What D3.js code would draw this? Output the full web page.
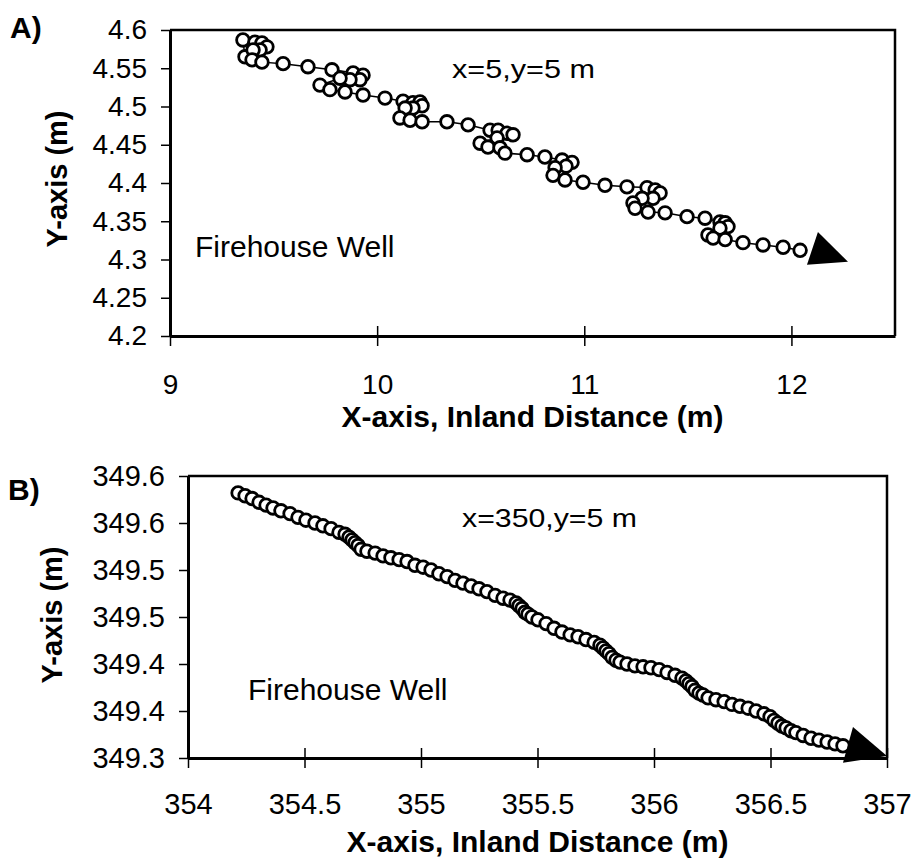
<!DOCTYPE html>
<html>
<head>
<meta charset="utf-8">
<script src="https://cdn.jsdelivr.net/npm/d3@7"></script>
<style>
  body { margin: 0; background: #fff; }
  text { font-family: "Liberation Sans", Arial, Helvetica, sans-serif; fill: #000; }
</style>
</head>
<body>
<div id="chart"></div>
<script>
// ---- panel A : x=5, y=5 m ----
const trackAx = [9.362, 9.352, 9.410, 9.444, 9.468, 9.435, 9.401, 9.396, 9.444, 9.546, 9.666, 9.782,
  9.884, 9.932, 9.917, 9.869, 9.821, 9.724, 9.772, 9.845, 9.932, 10.038, 10.125,
  10.173, 10.207, 10.217, 10.173, 10.135, 10.110, 10.159, 10.217, 10.337, 10.439,
  10.545, 10.584, 10.627, 10.656, 10.579, 10.497, 10.535, 10.593, 10.617, 10.724, 10.810,
  10.893, 10.941, 10.912, 10.859, 10.849, 10.907, 10.994, 11.100, 11.206,
  11.303, 11.342, 11.366, 11.332, 11.279, 11.235, 11.245, 11.308, 11.390, 11.496, 11.583,
  11.655, 11.680, 11.694, 11.655, 11.597, 11.622, 11.680, 11.766, 11.863, 11.960, 12.042];
const trackAy = [4.565, 4.587, 4.584, 4.583, 4.578, 4.574, 4.574, 4.561, 4.558, 4.556, 4.552, 4.548,
  4.544, 4.541, 4.535, 4.535, 4.537, 4.528, 4.522, 4.519, 4.515, 4.511, 4.507,
  4.505, 4.506, 4.501, 4.498, 4.498, 4.485, 4.482, 4.480, 4.480, 4.476,
  4.469, 4.469, 4.465, 4.463, 4.459, 4.452, 4.447, 4.446, 4.439, 4.437, 4.434,
  4.430, 4.427, 4.422, 4.420, 4.410, 4.404, 4.401, 4.397, 4.395,
  4.394, 4.391, 4.387, 4.380, 4.380, 4.374, 4.367, 4.362, 4.361, 4.356, 4.354,
  4.349, 4.348, 4.343, 4.341, 4.332, 4.328, 4.326, 4.322, 4.319, 4.316, 4.312];
const arrowAx = [12.075, 12.128, 12.273];
const arrowAy = [4.293, 4.336, 4.297];
const xTicksA = [9, 10, 11, 12];
const xLabelsA = ["9", "10", "11", "12"];
const yTicksA = [4.2, 4.25, 4.3, 4.35, 4.4, 4.45, 4.5, 4.55, 4.6];
const yLabelsA = ["4.2", "4.25", "4.3", "4.35", "4.4", "4.45", "4.5", "4.55", "4.6"];

// ---- panel B : x=350, y=5 m ----
const trackBx = [354.215, 354.245, 354.275, 354.305, 354.335, 354.365, 354.399, 354.438, 354.472, 354.506,
  354.545, 354.579, 354.614, 354.648, 354.674, 354.691, 354.704, 354.717, 354.730, 354.743,
  354.768, 354.803, 354.837, 354.871, 354.906, 354.940, 354.974, 355.009, 355.043, 355.077,
  355.112, 355.146, 355.180, 355.215, 355.249, 355.283, 355.318, 355.352, 355.382, 355.408,
  355.421, 355.434, 355.446, 355.459, 355.476, 355.502, 355.537, 355.571, 355.605, 355.640,
  355.674, 355.708, 355.743, 355.768, 355.781, 355.794, 355.807, 355.820, 355.837, 355.854,
  355.884, 355.918, 355.953, 355.987, 356.022, 356.056, 356.090, 356.120, 356.137, 356.150,
  356.163, 356.176, 356.193, 356.210, 356.232, 356.266, 356.301, 356.335, 356.369, 356.404,
  356.438, 356.472, 356.498, 356.515, 356.532, 356.549, 356.567, 356.588, 356.609, 356.640,
  356.674, 356.708, 356.743, 356.777, 356.811];
const trackBy = [349.582, 349.579, 349.576, 349.572, 349.569, 349.566, 349.563, 349.560, 349.556, 349.553,
  349.550, 349.547, 349.544, 349.540, 349.538, 349.535, 349.532, 349.529, 349.526, 349.522,
  349.520, 349.518, 349.515, 349.513, 349.511, 349.509, 349.505, 349.503, 349.500, 349.496,
  349.493, 349.489, 349.486, 349.483, 349.480, 349.477, 349.473, 349.470, 349.468, 349.465,
  349.462, 349.459, 349.455, 349.453, 349.450, 349.447, 349.443, 349.438, 349.434, 349.431,
  349.429, 349.426, 349.423, 349.420, 349.417, 349.414, 349.411, 349.407, 349.404, 349.402,
  349.400, 349.398, 349.397, 349.396, 349.394, 349.391, 349.388, 349.385, 349.382, 349.379,
  349.376, 349.372, 349.369, 349.367, 349.364, 349.362, 349.360, 349.357, 349.355, 349.353,
  349.350, 349.347, 349.344, 349.340, 349.337, 349.334, 349.332, 349.329, 349.327, 349.324,
  349.321, 349.319, 349.317, 349.315, 349.313];
const arrowBx = [356.811, 356.854, 357.000];
const arrowBy = [349.295, 349.333, 349.302];
const xTicksB = [354, 354.5, 355, 355.5, 356, 356.5, 357];
const xLabelsB = ["354", "354.5", "355", "355.5", "356", "356.5", "357"];
const yTicksB = [349.3, 349.35, 349.4, 349.45, 349.5, 349.55, 349.6];
const yLabelsB = ["349.3", "349.4", "349.4", "349.5", "349.5", "349.6", "349.6"];

const svg = d3.select("#chart")
  .append("svg")
  .attr("width", 913)
  .attr("height", 866);

function drawPanel(p) {
  const x = d3.scaleLinear().domain(p.xDomain).range(p.xRange);
  const y = d3.scaleLinear().domain(p.yDomain).range(p.yRange);
  const g = svg.append("g");

  // top / right border
  g.append("path")
    .attr("fill", "none")
    .attr("stroke", "#000")
    .attr("stroke-width", 2.5)
    .attr("d", `M${p.xRange[0]},${p.yRange[1]}H${p.xRange[1]}V${p.yRange[0]}`);

  // y axis
  const ya = g.append("g")
    .attr("transform", `translate(${p.xRange[0]},0)`)
    .call(d3.axisLeft(y).tickValues(p.yTicks).tickFormat((d, i) => p.yLabels[i])
      .tickSizeInner(9).tickSizeOuter(0).tickPadding(14));
  ya.select(".domain").attr("stroke-width", 3);
  ya.selectAll(".tick line").attr("stroke-width", 1.5);
  ya.selectAll("text").style("font-size", p.tickFont + "px");

  // x axis, ticks cross the line
  const xa = g.append("g")
    .attr("transform", `translate(0,${p.yRange[0]})`)
    .call(d3.axisBottom(x).tickValues(p.xTicks).tickFormat((d, i) => p.xLabels[i])
      .tickSizeInner(10).tickSizeOuter(0).tickPadding(p.xPad));
  xa.select(".domain").attr("stroke-width", 3);
  xa.selectAll(".tick line").attr("y1", -10).attr("stroke-width", 1.5);
  xa.selectAll("text").style("font-size", p.tickFont + "px");

  // track line + circles
  const pts = p.tx.map((v, i) => [v, p.ty[i]]);
  g.append("path")
    .datum(pts)
    .attr("fill", "none")
    .attr("stroke", "#000")
    .attr("stroke-width", 1.5)
    .attr("d", d3.line().x(d => x(d[0])).y(d => y(d[1])));

  g.selectAll("circle.pt")
    .data(pts)
    .enter()
    .append("circle")
    .attr("class", "pt")
    .attr("cx", d => x(d[0]))
    .attr("cy", d => y(d[1]))
    .attr("r", 6.3)
    .attr("fill", "#fff")
    .attr("stroke", "#000")
    .attr("stroke-width", 2.8);

  // direction arrow
  g.append("polygon")
    .attr("points", p.ax.map((v, i) => `${x(v)},${y(p.ay[i])}`).join(" "))
    .attr("fill", "#000");

  // labels
  g.append("text")
    .attr("x", p.site[0]).attr("y", p.site[1])
    .style("font-size", "30px")
    .text("Firehouse Well");

  g.append("text")
    .attr("x", p.note[0]).attr("y", p.note[1])
    .attr("textLength", p.note[2])
    .attr("lengthAdjust", "spacingAndGlyphs")
    .style("font-size", "25px")
    .text(p.noteText);

  g.append("text")
    .attr("x", (p.xRange[0] + p.xRange[1]) / 2)
    .attr("y", p.xTitleY)
    .attr("text-anchor", "middle")
    .style("font-size", "30px")
    .style("font-weight", "bold")
    .text("X-axis, Inland Distance (m)");

  g.append("text")
    .attr("transform", `translate(${p.yTitle[0]},${p.yTitle[1]}) rotate(-90)`)
    .attr("text-anchor", "middle")
    .attr("dy", "0.35em")
    .style("font-size", "29px")
    .style("font-weight", "bold")
    .text("Y-axis (m)");

  g.append("text")
    .attr("x", p.tag[0]).attr("y", p.tag[1])
    .style("font-size", "30px")
    .style("font-weight", "bold")
    .text(p.tagText);
}

drawPanel({
  xDomain: [9, 12.5], xRange: [170, 895],
  yDomain: [4.2, 4.6], yRange: [336, 30],
  xTicks: xTicksA, xLabels: xLabelsA, yTicks: yTicksA, yLabels: yLabelsA,
  tickFont: 28, xPad: 28,
  tx: trackAx, ty: trackAy, ax: arrowAx, ay: arrowAy,
  site: [195, 257], note: [452, 78, 143], noteText: "x=5,y=5 m",
  xTitleY: 427, yTitle: [57, 179], tag: [10, 38], tagText: "A)"
});

drawPanel({
  xDomain: [354, 357], xRange: [188, 887],
  yDomain: [349.3, 349.6], yRange: [758, 476],
  xTicks: xTicksB, xLabels: xLabelsB, yTicks: yTicksB, yLabels: yLabelsB,
  tickFont: 29, xPad: 25,
  tx: trackBx, ty: trackBy, ax: arrowBx, ay: arrowBy,
  site: [248, 700], note: [462, 527, 175], noteText: "x=350,y=5 m",
  xTitleY: 852, yTitle: [52, 615], tag: [8, 500], tagText: "B)"
});
</script>
</body>
</html>
